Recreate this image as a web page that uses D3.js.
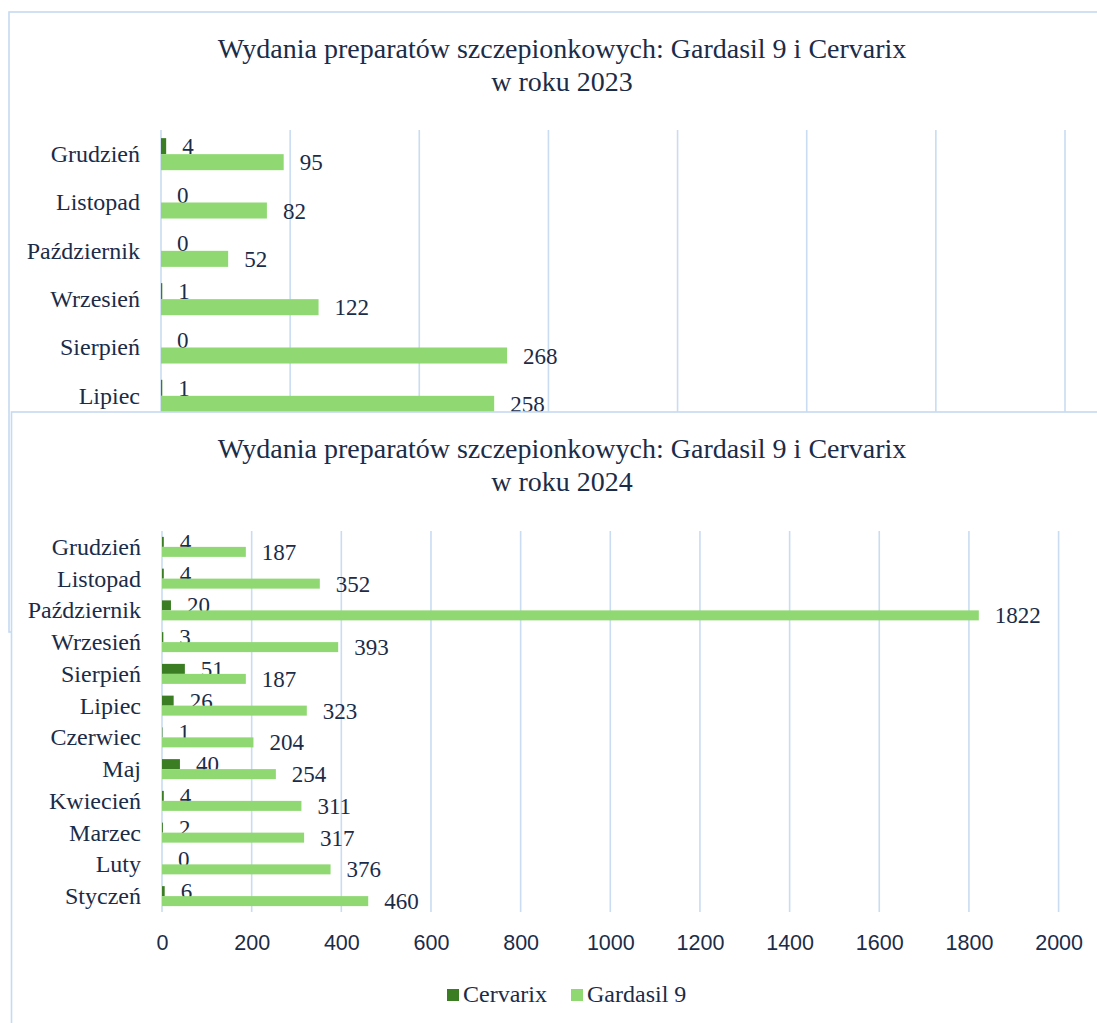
<!DOCTYPE html>
<html><head><meta charset="utf-8">
<script src="https://cdn.jsdelivr.net/npm/d3@7"></script>
<style>body{margin:0;background:#fff}svg{display:block}</style>
</head><body>
<svg id="c" width="1097" height="1023"></svg>
<script>
const months2023 = ["Grudzień","Listopad","Październik","Wrzesień","Sierpień","Lipiec"];
const cervarix2023 = [4,0,0,1,0,1];
const gardasil2023 = [95,82,52,122,268,258];

const months2024 = ["Grudzień","Listopad","Październik","Wrzesień","Sierpień","Lipiec","Czerwiec","Maj","Kwiecień","Marzec","Luty","Styczeń"];
const cervarix2024 = [4,4,20,3,51,26,1,40,4,2,0,6];
const gardasil2024 = [187,352,1822,393,187,323,204,254,311,317,376,460];

const seriesNames = ["Cervarix","Gardasil 9"];
const ticks2024 = [0,200,400,600,800,1000,1200,1400,1600,1800,2000];
const ticks2023 = [0,100,200,300,400,500,600,700];
const titleLine1 = "Wydania preparatów szczepionkowych: Gardasil 9 i Cervarix";

const COL = {cerv:"#3b7d23", gard:"#8fd872", text:"#1b2c48", grid:"#c9dcf2", border:"#c6daf1"};
const SERIF = "'Liberation Serif', 'Times New Roman', serif";
const SANS = "'Liberation Sans', Arial, sans-serif";

const svg = d3.select("#c");

function drawChart(cfg){
  const g = svg.append("g");
  g.append("rect").attr("x",cfg.bx).attr("y",cfg.by).attr("width",1200).attr("height",cfg.bh)
    .attr("fill","#fff").attr("stroke",COL.border).attr("stroke-width",1.6);
  g.append("text").attr("x",cfg.tx).attr("y",cfg.by+46).attr("text-anchor","middle")
    .style("font-family",SERIF).style("font-size",cfg.titleSize+"px").attr("fill",COL.text).text(titleLine1);
  g.append("text").attr("x",cfg.tx).attr("y",cfg.by+79).attr("text-anchor","middle")
    .style("font-family",SERIF).style("font-size",cfg.titleSize+"px").attr("fill",COL.text).text(cfg.line2);

  const x = d3.scaleLinear().domain([0,cfg.max]).range([cfg.x0,cfg.x1]);
  const y = d3.scaleBand().domain(cfg.cats).range([cfg.y0,cfg.y1]).paddingInner(cfg.pad).paddingOuter(cfg.pad/2);
  const inner = d3.scaleBand().domain([0,1]).range([0,y.bandwidth()]);

  g.append("g").selectAll("line").data(cfg.ticks).join("line")
    .attr("x1",d=>x(d)).attr("x2",d=>x(d)).attr("y1",cfg.y0).attr("y2",cfg.y1)
    .attr("stroke",COL.grid).attr("stroke-width",1.6);

  g.append("g").selectAll("text").data(cfg.cats).join("text")
    .attr("x",cfg.x0-21).attr("y",d=>y(d)+y.bandwidth()/2+cfg.catSize*0.33)
    .attr("text-anchor","end").style("font-family",SERIF).style("font-size",cfg.catSize+"px")
    .attr("fill",COL.text).text(d=>d);

  const series = [
    {vals:cfg.cerv, color:COL.cerv, i:0},
    {vals:cfg.gard, color:COL.gard, i:1}
  ];
  series.forEach(s=>{
    const data = cfg.cats.map((c,k)=>({c, v:s.vals[k]}));
    g.append("g").selectAll("rect").data(data).join("rect")
      .attr("x",x(0)).attr("y",d=>y(d.c)+inner(s.i))
      .attr("width",d=>Math.max(0,x(d.v)-x(0))).attr("height",inner.bandwidth())
      .attr("fill",s.color);
    g.append("g").selectAll("text").data(data).join("text")
      .attr("x",d=>x(d.v)+16).attr("y",d=>y(d.c)+inner(s.i)+inner.bandwidth()/2+cfg.lblSize*0.35)
      .style("font-family",SERIF).style("font-size",cfg.lblSize+"px").attr("fill",COL.text).text(d=>d.v);
  });

  if(cfg.axis){
    const ax = g.append("g").attr("transform",`translate(0,${cfg.y1})`)
      .call(d3.axisBottom(x).tickValues(cfg.ticks).tickSize(0).tickPadding(0).tickFormat(d3.format("d")));
    ax.select(".domain").remove();
    ax.selectAll("text").attr("y",0).attr("dy",0).attr("transform","translate(0,38)")
      .style("font-family",SANS).style("font-size","21.5px").attr("fill",COL.text);
  }
  if(cfg.legend){
    const lg = g.append("g");
    const items = [{n:seriesNames[0],c:COL.cerv,x:447},{n:seriesNames[1],c:COL.gard,x:571}];
    items.forEach(it=>{
      lg.append("rect").attr("x",it.x).attr("y",989).attr("width",12).attr("height",12).attr("fill",it.c);
      lg.append("text").attr("x",it.x+16).attr("y",1002).style("font-family",SERIF).style("font-size","24px")
        .attr("fill",COL.text).text(it.n);
    });
  }
  return g;
}

drawChart({bx:9,by:12,bh:620,tx:562,line2:"w roku 2023",titleSize:28,
  cats:months2023,cerv:cervarix2023,gard:gardasil2023,max:700,ticks:ticks2023,
  x0:161,x1:1065,y0:130,y1:420,pad:0.337,catSize:24,lblSize:23,axis:false,legend:false});

drawChart({bx:11.5,by:412,bh:700,tx:562,line2:"w roku 2024",titleSize:28,
  cats:months2024,cerv:cervarix2024,gard:gardasil2024,max:2000,ticks:ticks2024,
  x0:162,x1:1058.6,y0:531,y1:912,pad:0.37,catSize:24,lblSize:23,axis:true,legend:true});
</script>
</body></html>
